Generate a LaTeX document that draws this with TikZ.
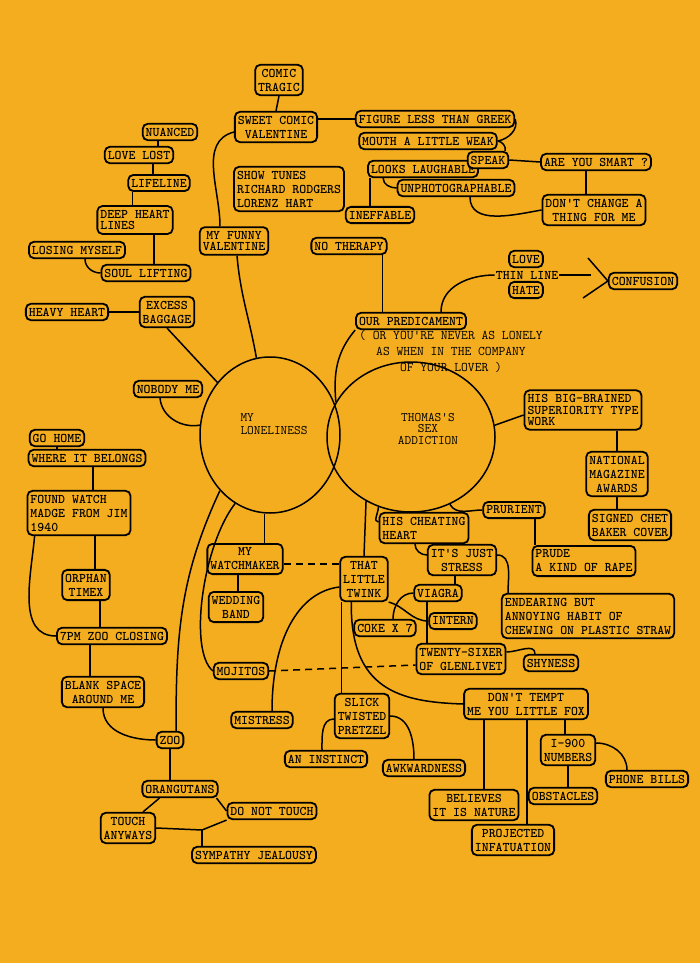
\documentclass[tikz,border=0pt]{standalone}
\usetikzlibrary{shapes.geometric}
\definecolor{bg}{RGB}{244,173,30}
\newcommand\tw{\fontsize{13.2}{14}\selectfont\ttfamily\bfseries}
\newcommand\twt{\fontsize{13.2}{11.5}\selectfont\ttfamily\bfseries}
\newcommand\twc{\fontsize{13}{13}\selectfont\ttfamily}
\begin{document}
\begin{tikzpicture}[x=1pt,y=-1pt,
 bx/.style={draw, fill=bg, rounded corners=5pt, line width=1.8pt, inner xsep=3pt, inner ysep=4pt, align=center, font=\tw},
 tx/.style={align=center, font=\tw, inner sep=1pt},
 ln/.style={line width=1.5pt},
 dsh/.style={line width=1.5pt, dash pattern=on 7pt off 5pt}]
\fill[bg] (0,0) rectangle (700,963);
\useasboundingbox (0,0) rectangle (700,963);

% circles
\node[draw, ellipse, line width=1.5pt, minimum width=140pt, minimum height=156pt, inner sep=0pt] (lon) at (270,435) {};
\node[draw, ellipse, line width=1.5pt, minimum width=168pt, minimum height=150pt, inner sep=0pt] (thomas) at (411,437) {};
\node[tx, align=left, font=\twc] (lontxt) at (274,424) {MY\\LONELINESS};
\node[tx, font=\fontsize{13}{11.5}\selectfont\ttfamily] (thtxt) at (428,429) {THOMAS'S\\SEX\\ADDICTION};

% top
\node[bx] (comic) at (279,80) {COMIC\\TRAGIC};
\node[bx] (sweet) at (276,127) {SWEET COMIC\\VALENTINE};
\node[bx] (figure) at (435,119) {FIGURE LESS THAN GREEK};
\node[bx] (mouth) at (428,141) {MOUTH A LITTLE WEAK};
\node[bx] (looks) at (423,169) {LOOKS LAUGHABLE};
\node[bx] (speak) at (488,160) {SPEAK};
\node[bx] (unphoto) at (456,188) {UNPHOTOGRAPHABLE};
\node[bx] (ineff) at (380,215) {INEFFABLE};
\node[bx] (smart) at (596,162) {ARE YOU SMART ?};
\node[bx] (dont) at (594,210) {DON'T CHANGE A\\THING FOR ME};
\node[bx, align=left] (show) at (289,189) {SHOW TUNES\\RICHARD RODGERS\\LORENZ HART};
\node[bx] (notherapy) at (349,246) {NO THERAPY};
\node[bx] (love) at (526,259) {LOVE};
\node[tx] (thin) at (527,275) {THIN LINE};
\node[bx] (hate) at (526,290) {HATE};
\node[bx] (confusion) at (643,281) {CONFUSION};
\node[bx] (pred) at (411,321) {OUR PREDICAMENT};
\node[tx, font=\fontsize{13.2}{16}\selectfont\ttfamily] (predtxt) at (451,351) {( OR YOU'RE NEVER AS LONELY\\AS WHEN IN THE COMPANY\\OF YOUR LOVER )};

% left
\node[bx] (nuanced) at (170,132) {NUANCED};
\node[bx] (lovelost) at (139,155) {LOVE LOST};
\node[bx] (lifeline) at (159,183) {LIFELINE};
\node[bx, align=left, font=\twt] (deep) at (135,220) {DEEP HEART\\LINES};
\node[bx] (losing) at (77,250) {LOSING MYSELF};
\node[bx] (soul) at (146,273) {SOUL LIFTING};
\node[bx, font=\twt] (funny) at (234,241) {MY FUNNY\\VALENTINE};
\node[bx] (heavy) at (67,312) {HEAVY HEART};
\node[bx] (excess) at (167,312) {EXCESS\\BAGGAGE};
\node[bx] (nobody) at (168,389) {NOBODY ME};
\node[bx] (gohome) at (57,438) {GO HOME};
\node[bx] (where) at (87,458) {WHERE IT BELONGS};
\node[bx, align=left] (found) at (79,513) {FOUND WATCH\\MADGE FROM JIM\\1940};
\node[bx] (orphan) at (86,585) {ORPHAN\\TIMEX};
\node[bx] (sevenpm) at (112,636) {7PM ZOO CLOSING};
\node[bx] (blank) at (103,692) {BLANK SPACE\\AROUND ME};
\node[bx] (zoo) at (170,740) {ZOO};
\node[bx] (orang) at (180,789) {ORANGUTANS};
\node[bx] (donot) at (272,811) {DO NOT TOUCH};
\node[bx] (touch) at (128,828) {TOUCH\\ANYWAYS};
\node[bx] (sympathy) at (254,855) {SYMPATHY JEALOUSY};
\coordinate (jn) at (202,830);

% center / right
\node[bx] (watch) at (245,559) {MY\\WATCHMAKER};
\node[bx] (wedding) at (236,607) {WEDDING\\BAND};
\node[bx] (twink) at (364,579) {THAT\\LITTLE\\TWINK};
\node[bx] (mojitos) at (241,671) {MOJITOS};
\node[bx] (mistress) at (262,720) {MISTRESS};
\node[bx] (slick) at (362,716) {SLICK\\TWISTED\\PRETZEL};
\node[bx] (instinct) at (326,759) {AN INSTINCT};
\node[bx] (awk) at (424,768) {AWKWARDNESS};
\node[bx, align=left] (cheat) at (424,528) {HIS CHEATING\\HEART};
\node[bx] (prurient) at (514,510) {PRURIENT};
\node[bx, align=left] (prude) at (584,561) {PRUDE\\A KIND OF RAPE};
\node[bx, align=left, font=\twt] (bigbrain) at (583,410) {HIS BIG-BRAINED\\SUPERIORITY TYPE\\WORK};
\node[bx] (national) at (617,474) {NATIONAL\\MAGAZINE\\AWARDS};
\node[bx] (signed) at (630,525) {SIGNED CHET\\BAKER COVER};
\node[bx] (stress) at (462,560) {IT'S JUST\\STRESS};
\node[bx, align=left] (endear) at (588,616) {ENDEARING BUT\\ANNOYING HABIT OF\\CHEWING ON PLASTIC STRAW};
\node[bx] (viagra) at (438,593) {VIAGRA};
\node[bx] (coke) at (385,628) {COKE X 7};
\node[bx] (intern) at (453,621) {INTERN};
\node[bx] (twenty) at (461,659) {TWENTY-SIXER\\OF GLENLIVET};
\node[bx] (shyness) at (551,663) {SHYNESS};
\node[bx] (tempt) at (526,704) {DON'T TEMPT\\ME YOU LITTLE FOX};
\node[bx] (believes) at (474,805) {BELIEVES\\IT IS NATURE};
\node[bx] (projected) at (513,840) {PROJECTED\\INFATUATION};
\node[bx] (i900) at (568,750) {I-900\\NUMBERS};
\node[bx] (phone) at (647,779) {PHONE BILLS};
\node[bx] (obst) at (563,796) {OBSTACLES};

% helper coordinates
\coordinate (thinend) at (591,275);
\coordinate (chevtop) at (588,258);
\coordinate (chevbot) at (583,298);
\coordinate (c1) at ([xshift=-10]smart.south);
\coordinate (c2) at ([xshift=3]looks.south west);
\coordinate (c3) at ([xshift=-5]notherapy.south east);
\coordinate (c4) at ([xshift=-12]nuanced.south);
\coordinate (c5) at ([xshift=14]lovelost.south);
\coordinate (c6) at ([xshift=5]lifeline.south west);
\coordinate (c7) at ([xshift=19]deep.south);
\coordinate (c8) at ([xshift=6]where.south);
\coordinate (c9) at ([xshift=16]found.south);
\coordinate (c10) at ([xshift=14]orphan.south);
\coordinate (c11) at ([xshift=-22]sevenpm.south);
\coordinate (c12) at ([xshift=-7]watch.south);
\coordinate (c13) at ([yshift=-5]watch.east);
\coordinate (c14) at ([xshift=21]prurient.south);
\coordinate (c15) at ([xshift=-7]stress.south);
\coordinate (c16) at ([xshift=-11]viagra.south);
\coordinate (c17) at ([xshift=2]twink.south west);
\coordinate (c18) at ([xshift=-42]tempt.south);
\coordinate (c19) at ([xshift=1]tempt.south);
\coordinate (c20) at ([xshift=39]tempt.south);

% connectors
\draw[ln] (comic.south) -- (sweet.north);
\draw[ln] (figure.west -| sweet.east) -- (figure.west);
\draw[ln] (figure.east) to[out=-70,in=10] (mouth.east);
\draw[ln] (mouth.east) to[out=-10,in=80] ([xshift=-4]speak.north east);
\draw[ln] (speak.east) -- (smart.west);
\draw[ln] (c1) -- (c1 |- dont.north);
\draw[ln] (dont.west) to[out=190,in=-90] ([xshift=14]unphoto.south);
\draw[ln] (c2) -- (c2 |- ineff.north);
\draw[ln] ([xshift=16]looks.south west) to[out=-90,in=180] (unphoto.west);
\draw[ln] (c3) -- (c3 |- pred.north);
\draw[ln] ([xshift=30]pred.north) to[out=90,in=180] (thin.west);
\draw[ln] (thin.east) -- (thinend);
\draw[ln] (chevtop) -- (confusion.west) -- (chevbot);
\draw[ln] (pred.south west) to[out=230,in=95] (thomas.155);

\draw[ln] (excess.south) -- (lon.135);
\draw[ln] ([xshift=-8]nobody.south) to[out=-85,in=190] (lon.172);
\draw[ln] ([xshift=3]funny.south) to[out=-85,in=100] (lon.100);
\draw[ln] ([yshift=-5]sweet.west) to[out=195,in=90] ([xshift=-14]funny.north);
\draw[ln] (lon.228) to[out=245,in=90] ([xshift=6]zoo.north);
\draw[ln] (lon.243) .. controls (203,545) and (188,650) .. (mojitos.west);
\draw[ln] (lon.266) -- (lon.266 |- watch.north);

\draw[ln] (c4) -- (c4 |- lovelost.north);
\draw[ln] (c5) -- (c5 |- lifeline.north);
\draw[ln] (c6) -- (c6 |- deep.north);
\draw[ln] (c7) -- (c7 |- soul.north);
\draw[ln] ([xshift=8]losing.south) to[out=-90,in=180] (soul.west);
\draw[ln] (heavy.east) -- (excess.west);

\draw[ln] (gohome.south) -- (gohome.south |- where.north);
\draw[ln] (c8) -- (c8 |- found.north);
\draw[ln] (c9) -- (c9 |- orphan.north);
\draw[ln] ([xshift=8]found.south west) to[out=-95,in=180] (sevenpm.west);
\draw[ln] (c10) -- (c10 |- sevenpm.north);
\draw[ln] (c11) -- (c11 |- blank.north);
\draw[ln] (blank.south) to[out=-90,in=180] (zoo.west);
\draw[ln] (zoo.south) -- (zoo.south |- orang.north);
\draw[ln] ([xshift=18]orang.south west) -- ([xshift=15]touch.north);
\draw[ln] ([xshift=-2]orang.south east) -- (donot.west);
\draw[ln] (touch.east) -- (jn) -- (donot.south west);
\draw[ln] (jn) -- (jn |- sympathy.north);

\draw[ln] (c12) -- (c12 |- wedding.north);
\draw[dsh] (c13) -- (c13 -| twink.west);
\draw[ln] (twink.north) -- (thomas.235);
\draw[ln] (thomas.245) to[out=-90,in=180] ([yshift=6]cheat.west);
\draw[ln] (thomas.300) to[out=-60,in=180] (prurient.west);
\draw[ln] (thomas.8) -- ([yshift=-5]bigbrain.west);
\draw[ln] (national.north |- bigbrain.south) -- (national.north);
\draw[ln] (national.south) -- (national.south |- signed.north);
\draw[ln] (c14) -- (c14 |- prude.north);
\draw[ln] ([xshift=-9]cheat.south) to[out=-90,in=180] ([yshift=5]stress.west);
\draw[ln] ([yshift=5]stress.east) to[out=0,in=90] ([xshift=-80]endear.north);
\draw[ln] (c15) -- (c15 |- viagra.north);
\draw[ln] (viagra.west) to[out=180,in=90] ([xshift=8]coke.north);
\draw[ln] (twink.south east) to[out=-15,in=180] (intern.west);
\draw[ln] (c16) -- (c16 |- twenty.north);
\draw[ln] ([yshift=7]twenty.east) to[out=0,in=90] ([xshift=-16]shyness.north);
\draw[dsh] (mojitos.east) -- ([yshift=-6]twenty.west);
\draw[ln] ([yshift=-8]twink.west) .. controls (298,592) and (272,640) .. ([xshift=10]mistress.north);
\draw[ln] (c17) -- (c17 |- slick.north);
\draw[ln] ([xshift=12]twink.south west) .. controls (350,690) and (400,702) .. (tempt.west);
\draw[ln] ([yshift=-3]slick.west) to[out=180,in=90] ([xshift=-4]instinct.north);
\draw[ln] (slick.east) to[out=0,in=90] ([xshift=-10]awk.north);
\draw[ln] (c18) -- (c18 |- believes.north);
\draw[ln] (c19) -- (c19 |- projected.north);
\draw[ln] (c20) -- (c20 |- i900.north);
\draw[ln] ([yshift=7]i900.east) to[out=0,in=90] ([xshift=-20]phone.north);
\draw[ln] (i900.south) -- (i900.south |- obst.north);
\end{tikzpicture}
\end{document}
